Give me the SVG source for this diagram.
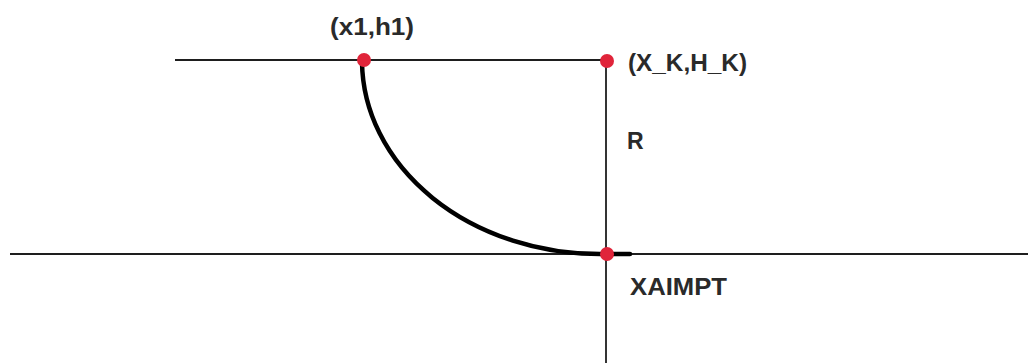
<svg xmlns="http://www.w3.org/2000/svg" width="1028" height="363" viewBox="0 0 1028 363">
<style>
.ln{stroke:#1e1e1e;stroke-width:1.8;fill:none}
.arc{stroke:#000;stroke-width:4.5;fill:none;stroke-linecap:round}
.pt{fill:#e0243a}
.lb{font-family:"Liberation Sans",Arial,sans-serif;font-weight:bold;font-size:23px;fill:#2a2a2a}
</style>
<rect width="1028" height="363" fill="#fff"/>
<g id="connectors">
<line class="ln" x1="175" y1="60" x2="607" y2="60"/>
<line class="ln" x1="606" y1="60" x2="606" y2="363"/>
<line class="ln" x1="10" y1="254" x2="1028" y2="254"/>
<path class="arc" d="M362,62 A238,194 0 0 0 600,254 L630,254"/>
</g>
<g id="p1"><circle class="pt" cx="364" cy="60" r="7"/><text class="lb" x="330" y="35" textLength="84" lengthAdjust="spacingAndGlyphs">(x1,h1)</text></g>
<g id="pk"><circle class="pt" cx="607" cy="61" r="7"/><text class="lb" x="628" y="71" textLength="119" lengthAdjust="spacingAndGlyphs">(X_K,H_K)</text></g>
<g id="r"><text class="lb" x="627" y="149">R</text></g>
<g id="pa"><circle class="pt" cx="607" cy="254" r="7"/><text class="lb" x="630" y="295" textLength="97" lengthAdjust="spacingAndGlyphs">XAIMPT</text></g>
</svg>
